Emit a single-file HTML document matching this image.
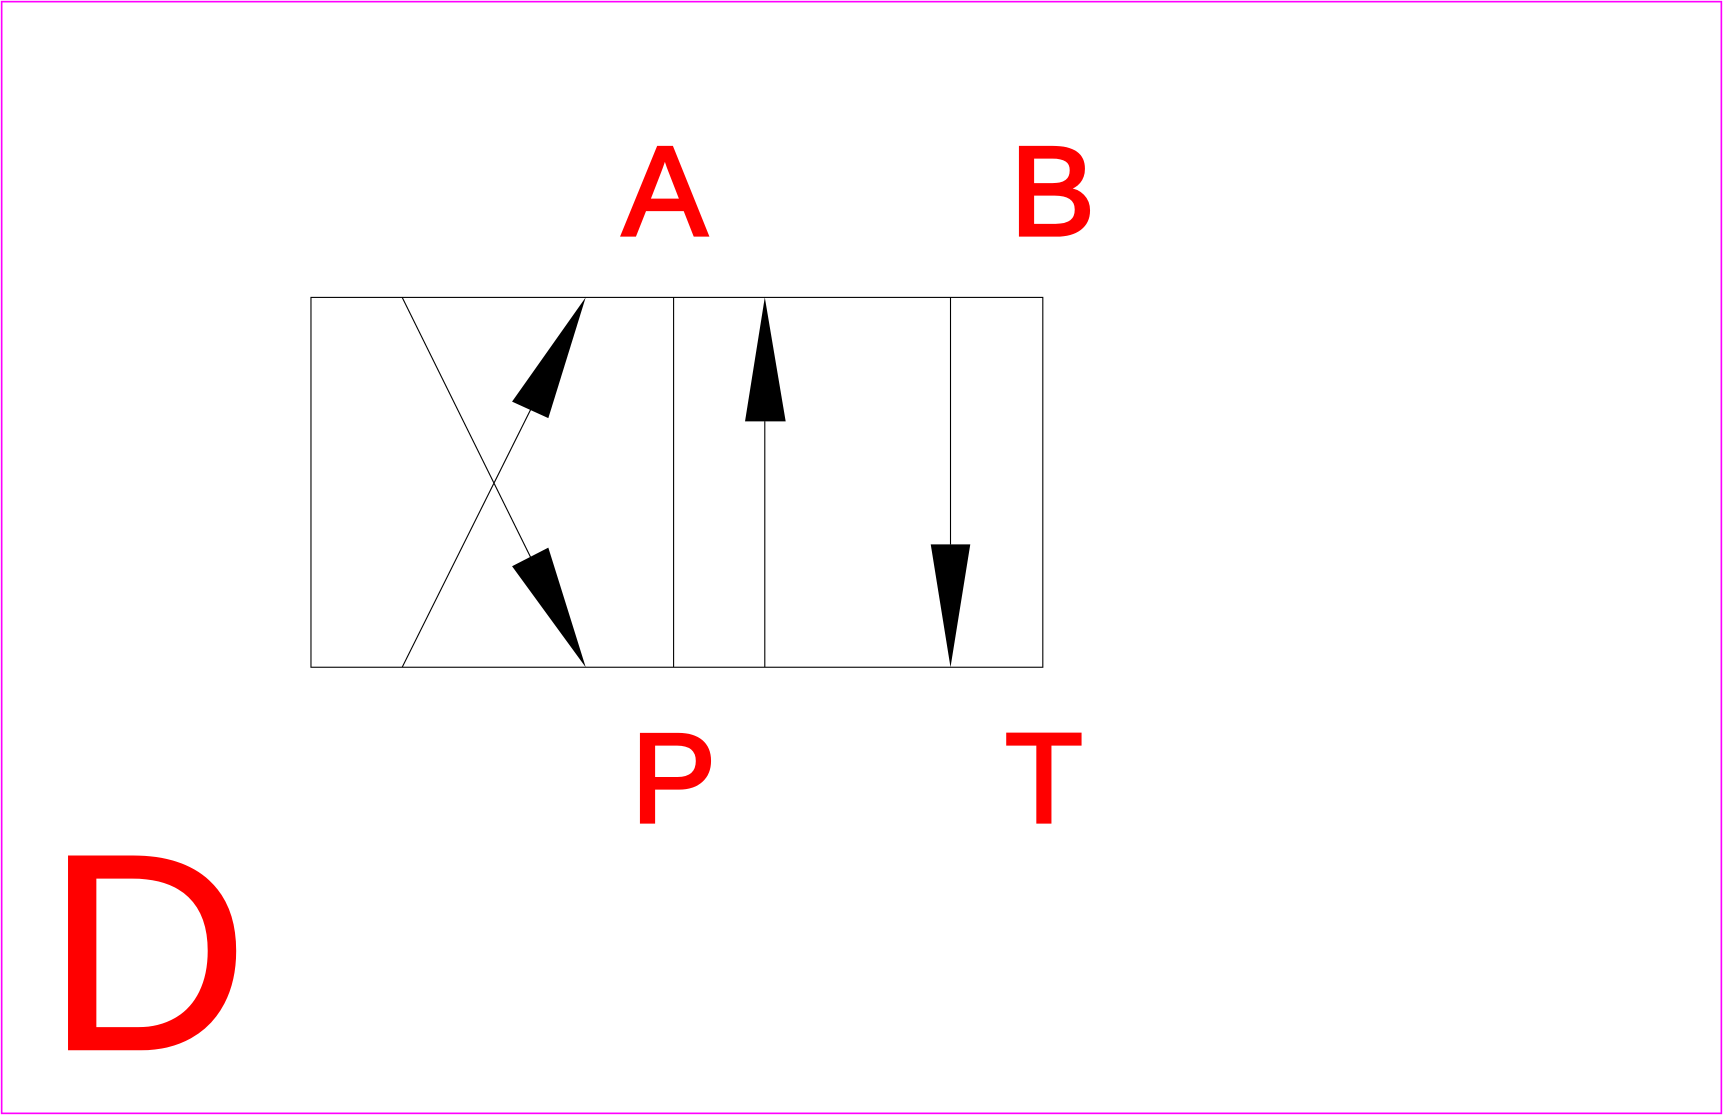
<!DOCTYPE html>
<html>
<head>
<meta charset="utf-8">
<style>
  html,body{margin:0;padding:0;background:#fff;}
  svg{display:block;}
  text{font-family:"Liberation Sans",sans-serif;fill:#ff0000;stroke:#ff0000;}
</style>
</head>
<body>
<svg width="1723" height="1115" viewBox="0 0 1568 1016" preserveAspectRatio="none">
  <rect x="1.5" y="1.5" width="1565" height="1013" fill="none" stroke="#ff00ff" stroke-width="1.5"/>
  <g stroke="#000" stroke-width="1" fill="none">
    <rect x="283" y="271" width="666" height="337"/>
    <line x1="613" y1="271" x2="613" y2="608"/>
    <line x1="366" y1="271" x2="483" y2="508"/>
    <line x1="366" y1="608" x2="483" y2="373"/>
    <line x1="696" y1="384" x2="696" y2="608"/>
    <line x1="865" y1="271" x2="865" y2="496"/>
  </g>
  <g fill="#000">
    <polygon points="533,271 499,381 466,366"/>
    <polygon points="533,608 466,516 499,499"/>
    <polygon points="696,271 678,384 715,384"/>
    <polygon points="865,608 847,496 883,496"/>
  </g>
  <text x="605" y="214" font-size="116" stroke-width="3" text-anchor="middle">A</text>
  <text x="958" y="214" font-size="116" stroke-width="3" text-anchor="middle">B</text>
  <text x="613" y="749" font-size="116" stroke-width="3" text-anchor="middle">P</text>
  <text x="950" y="749" font-size="116" stroke-width="3" text-anchor="middle">T</text>
  <text x="42" y="956" font-size="255" stroke-width="2">D</text>
</svg>
</body>
</html>
